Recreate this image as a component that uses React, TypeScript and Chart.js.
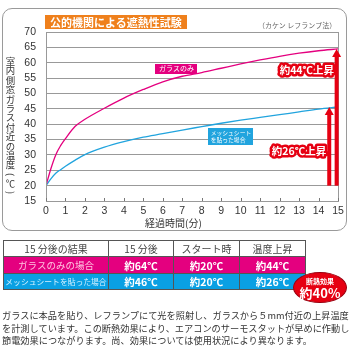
import React, { useEffect, useRef } from "react";
import { Chart, registerables } from "chart.js";
Chart.register(...registerables);

const minutes = [0, 0.25, 0.5, 0.75, 1, 1.5, 2, 3, 4, 5, 6, 7, 8, 9, 10, 11, 12, 13, 14, 15];
const glassOnly = [20, 25.5, 30, 33, 35.3, 39.3, 41.6, 45.2, 48.5, 51.3, 53.8, 55.6, 56.8, 58.2, 59.6, 60.9, 62.1, 63.1, 63.9, 64.5];
const withMesh = [20, 22.2, 24, 25.2, 26.3, 28.3, 30.1, 32.5, 34.3, 35.8, 36.9, 38.1, 39.2, 40.3, 41.3, 42.2, 43.1, 44.0, 44.9, 45.6];
const startTemp = 20;
const seriesNames = ["ガラスのみ", "メッシュシート", "を貼った場合"];
const riseLabels = ["約44℃上昇", "約26℃上昇"];
const chartTitle = "公的機関による遮熱性試験";
const methodNote = "（カケン レフランプ法）";
const yAxisTitle = "室内側窓ガラス付近の温度(℃)";
const xAxisTitle = "経過時間(分)";
const tableHeader = ["15 分後の結果", "15 分後", "スタート時", "温度上昇"];
const tableGlass = ["ガラスのみの場合", "約64℃", "約20℃", "約44℃"];
const tableMesh = ["メッシュシートを貼った場合", "約46℃", "約20℃", "約26℃"];
const effectLabel = ["断熱効果", "約40%"];
const noteLines = [
  "ガラスに本品を貼り、レフランプにて光を照射し、ガラスから５mm付近の上昇温度",
  "を計測しています。この断熱効果により、エアコンのサーモスタットが早めに作動し、",
  "節電効果につながります。尚、効果については使用状況により異なります。",
];

const PINK = "#e4007f";
const BLUE = "#21a4de";
const RED = "#e60012";
const JP = '"Noto Sans CJK JP", "Noto Sans", sans-serif';

const overlayPlugin = {
  id: "overlay",
  afterDraw(chart: any) {
    const { ctx, chartArea, scales } = chart;
    const xs = scales.x, ys = scales.y;
    ctx.save();
    ctx.strokeStyle = "#999";
    ctx.lineWidth = 1;
    ctx.strokeRect(Math.round(chartArea.left) + 0.5, Math.round(chartArea.top) + 0.5, Math.round(chartArea.right - chartArea.left), Math.round(chartArea.bottom - chartArea.top));
    ctx.strokeStyle = "#777";
    xs.ticks.forEach((t: any) => {
      const px = Math.round(xs.getPixelForValue(t.value)) + 0.5;
      ctx.beginPath();
      ctx.moveTo(px, chartArea.bottom);
      ctx.lineTo(px, chartArea.bottom - 3);
      ctx.stroke();
    });
    const arrow = (xv: number, top: number) => {
      const x = xs.getPixelForValue(xv);
      const yb = ys.getPixelForValue(startTemp);
      const yt = ys.getPixelForValue(top);
      const headH = 8, headW = 9, shaft = 4;
      ctx.fillStyle = RED;
      ctx.fillRect(x - shaft / 2, yt + headH - 1, shaft, yb - yt - headH + 1);
      ctx.beginPath();
      ctx.moveTo(x, yt);
      ctx.lineTo(x + headW / 2, yt + headH);
      ctx.lineTo(x - headW / 2, yt + headH);
      ctx.closePath();
      ctx.fill();
    };
    arrow(14.55, withMesh[withMesh.length - 1]);
    arrow(14.93, glassOnly[glassOnly.length - 1]);
    const box = (xv: number, yv: number, w: number, h: number, bg: string, lines: string[], fs: number) => {
      const cx = xs.getPixelForValue(xv), cy = ys.getPixelForValue(yv);
      ctx.fillStyle = bg;
      ctx.fillRect(Math.round(cx - w / 2), Math.round(cy - h / 2), w, h);
      ctx.fillStyle = "#fff";
      ctx.font = `${fs}px ${JP}`;
      ctx.textBaseline = "middle";
      ctx.textAlign = lines.length > 1 ? "left" : "center";
      lines.forEach((l, i) => {
        const ly = cy + (i - (lines.length - 1) / 2) * (fs + 1.5);
        ctx.fillText(l, lines.length > 1 ? cx - w / 2 + 3 : cx, ly);
      });
    };
    box(6.7, 58.1, 42, 10, PINK, [seriesNames[0]], 7);
    box(9.46, 36.1, 45, 17, BLUE, [seriesNames[1], seriesNames[2]], 5.8);
    const rise = (xv: number, yv: number, txt: string) => {
      const cx = xs.getPixelForValue(xv), cy = ys.getPixelForValue(yv);
      ctx.font = `bold 10.5px ${JP}`;
      ctx.textAlign = "center";
      ctx.textBaseline = "middle";
      ctx.lineJoin = "round";
      ctx.strokeStyle = RED;
      ctx.lineWidth = 5;
      ctx.strokeText(txt, cx, cy);
      ctx.fillStyle = "#fff";
      ctx.fillText(txt, cx, cy);
    };
    rise(13.4, 57.5, riseLabels[0]);
    rise(13.0, 31.3, riseLabels[1]);
    ctx.restore();
  },
};

function ChartBox() {
  const ref = useRef<HTMLCanvasElement>(null);
  useEffect(() => {
    if (!ref.current) return;
    const chart = new Chart(ref.current, {
      type: "line",
      data: {
        datasets: [
          {
            label: seriesNames[0],
            data: minutes.map((m, i) => ({ x: m, y: glassOnly[i] })),
            borderColor: PINK,
            borderWidth: 1.3,
            pointRadius: 0,
            cubicInterpolationMode: "monotone",
            fill: false,
          },
          {
            label: seriesNames[1],
            data: minutes.map((m, i) => ({ x: m, y: withMesh[i] })),
            borderColor: BLUE,
            borderWidth: 1.3,
            pointRadius: 0,
            cubicInterpolationMode: "monotone",
            fill: false,
          },
        ],
      },
      options: {
        responsive: false,
        animation: false,
        events: [],
        layout: { padding: { left: 0, top: 32, right: 12, bottom: 0 } },
        plugins: { legend: { display: false }, tooltip: { enabled: false }, title: { display: false } },
        scales: {
          x: {
            type: "linear",
            min: 0,
            max: 15,
            afterFit: (s: any) => { s.height = 31; },
            ticks: { stepSize: 1, autoSkip: false, maxRotation: 0, padding: 4, color: "#333", font: { family: "Liberation Sans", size: 10.5 } },
            grid: { display: false, drawTicks: false },
            border: { display: false },
          },
          y: {
            min: 15,
            max: 70,
            afterFit: (s: any) => { s.width = 46; },
            ticks: { stepSize: 5, autoSkip: false, padding: 10, color: "#333", font: { family: "Liberation Sans", size: 10.5 } },
            grid: { color: "#999", lineWidth: 1, drawTicks: false },
            border: { display: false },
          },
        },
      },
      plugins: [overlayPlugin],
    } as any);
    return () => chart.destroy();
  }, []);
  return <canvas ref={ref} width={350} height={232} style={{ width: 350, height: 232, display: "block" }} />;
}

export default function App() {
  const cell: React.CSSProperties = { border: "1px solid #555", padding: 0, textAlign: "center", verticalAlign: "middle", whiteSpace: "nowrap", overflow: "hidden" };
  const val: React.CSSProperties = { ...cell, color: "#fff", fontWeight: "bold", fontSize: 10.5 };
  const chars = Array.from(yAxisTitle);
  return (
    <div style={{ position: "absolute", left: 0, top: 0, width: 350, height: 350, overflow: "hidden", background: "#fff", fontFamily: JP }}>
      <div style={{ position: "absolute", left: 2, top: 8, width: 343, height: 221, border: "1px solid #9a9a9a", borderRadius: 10 }} />
      <div style={{ position: "absolute", left: 0, top: 0 }}>
        <ChartBox />
      </div>
      <div style={{ position: "absolute", left: 45, top: 15, width: 142, height: 14, background: "#ef801c", color: "#fff", fontWeight: "bold", fontSize: 11, lineHeight: "14px", paddingLeft: 5, boxSizing: "border-box", whiteSpace: "nowrap" }}>{chartTitle}</div>
      <div style={{ position: "absolute", left: 258, top: 20, fontSize: 7, lineHeight: "10px", color: "#666", whiteSpace: "nowrap" }}>{methodNote}</div>
      <div style={{ position: "absolute", left: 5, top: 57, width: 11, fontSize: 9.4, color: "#333" }}>
        {chars.map((c, i) => (
          <div key={i} style={{ height: 9.4, lineHeight: "9.4px", textAlign: "center", transform: c === "(" || c === ")" ? "rotate(90deg)" : undefined }}>{c}</div>
        ))}
      </div>
      <div style={{ position: "absolute", left: 145, top: 217, fontSize: 10, lineHeight: "12px", color: "#333", whiteSpace: "nowrap" }}>{xAxisTitle}</div>
      <table style={{ position: "absolute", left: 3, top: 240, borderCollapse: "collapse", tableLayout: "fixed", width: 302 }}>
        <colgroup>
          <col style={{ width: 105 }} />
          <col style={{ width: 65 }} />
          <col style={{ width: 66 }} />
          <col style={{ width: 66 }} />
        </colgroup>
        <tbody>
          <tr style={{ height: 16 }}>
            {tableHeader.map((h, i) => (
              <td key={i} style={{ ...cell, color: "#444", fontSize: 10, background: "#fff" }}>{h}</td>
            ))}
          </tr>
          <tr style={{ height: 17, background: PINK }}>
            <td style={{ ...cell, color: "#ffc2e0", fontSize: 9.5 }}>{tableGlass[0]}</td>
            {tableGlass.slice(1).map((v, i) => (<td key={i} style={val}>{v}</td>))}
          </tr>
          <tr style={{ height: 16, background: "#0aa0e3" }}>
            <td style={{ ...cell, color: "#d4f1ff", fontSize: 7.8 }}>{tableMesh[0]}</td>
            {tableMesh.slice(1).map((v, i) => (<td key={i} style={val}>{v}</td>))}
          </tr>
        </tbody>
      </table>
      <div style={{ position: "absolute", left: 293, top: 272, width: 54, height: 31, borderRadius: "50%", background: RED, border: "1px solid #9b0010", boxSizing: "border-box", color: "#fff", textAlign: "center", fontWeight: "bold" }}>
        <div style={{ fontSize: 7, lineHeight: "8px", marginTop: 4 }}>{effectLabel[0]}</div>
        <div style={{ fontSize: 13, lineHeight: "15px" }}>{effectLabel[1]}</div>
      </div>
      {noteLines.map((l, i) => (
        <div key={i} style={{ position: "absolute", left: 2, top: 309 + i * 12.5, fontSize: 9.2, lineHeight: "12px", color: "#333", whiteSpace: "nowrap" }}>{l}</div>
      ))}
    </div>
  );
}
